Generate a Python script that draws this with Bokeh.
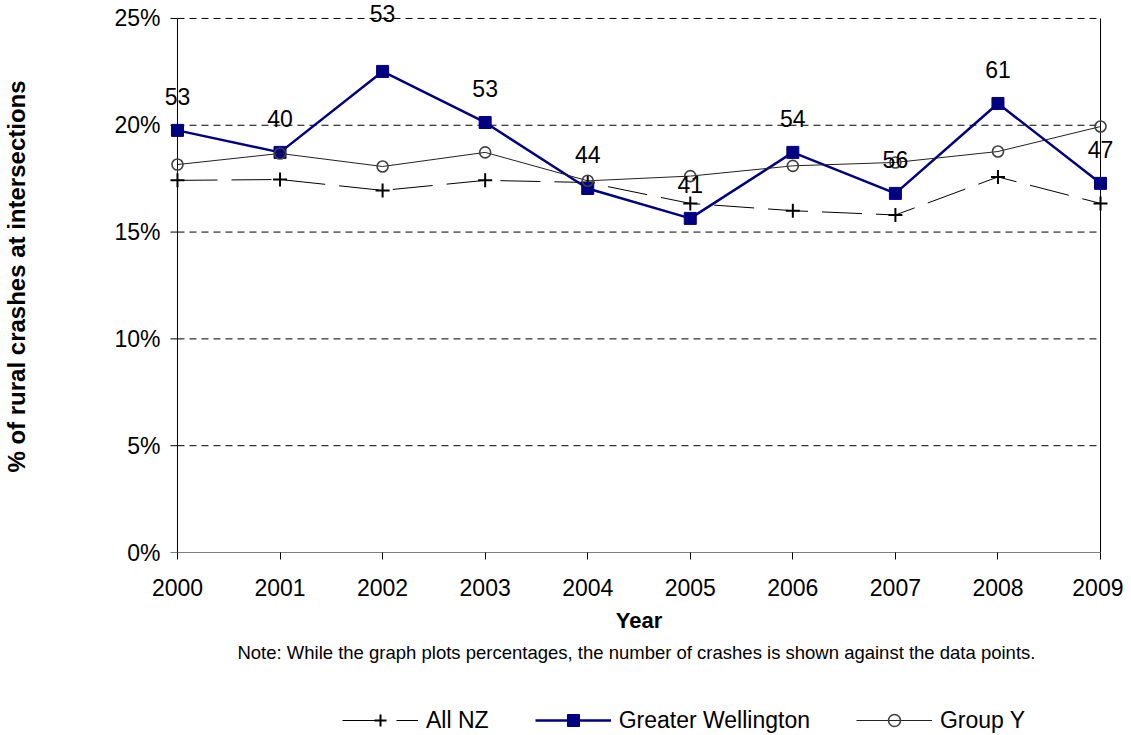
from bokeh.plotting import figure
from bokeh.layouts import column
from bokeh.models import (Range1d, FixedTicker, Legend, LegendItem, Title,
                          ColumnDataSource, LabelSet)
from bokeh.core.properties import value
from bokeh.embed import file_html
from bokeh.resources import INLINE
import numpy as np

# ---- data ----
years = [2000, 2001, 2002, 2003, 2004, 2005, 2006, 2007, 2008, 2009]
all_nz = [17.42, 17.46, 16.95, 17.42, 17.32, 16.34, 16.0, 15.80, 17.58, 16.34]
greater_wellington = [19.76, 18.73, 22.52, 20.13, 17.04, 15.64, 18.73, 16.81, 21.02, 17.28]
group_y = [18.16, 18.68, 18.07, 18.73, 17.40, 17.62, 18.10, 18.26, 18.77, 19.94]
crash_counts = ["53", "40", "53", "53", "44", "41", "54", "56", "61", "47"]
y_ticks = [0, 5, 10, 15, 20, 25]
y_tick_labels = ["0%", "5%", "10%", "15%", "20%", "25%"]
x_ticks = years
series_names = ["All NZ", "Greater Wellington", "Group Y"]

FONT = "Liberation Sans"
LEFT = 162

pad_x = 0.146      # room beyond the first/last year so edge labels are not clipped
tick_len = 0.068   # 7 px outward tick on the value axis

p = figure(frame_width=953, frame_height=552,
           x_range=Range1d(years[0] - pad_x, years[-1] + pad_x),
           y_range=Range1d(0, 25.84),
           output_backend="svg", toolbar_location=None,
           min_border_left=LEFT, min_border_right=8, min_border_top=0,
           min_border_bottom=125, outline_line_color=None)

p.background_fill_color = "white"
p.border_fill_color = "white"
p.xgrid.visible = False
p.ygrid.visible = False

# y axis (labels only; line and ticks drawn at the first year below)
p.yaxis.ticker = FixedTicker(ticks=y_ticks)
p.yaxis.major_label_overrides = {t: l for t, l in zip(y_ticks, y_tick_labels)}
p.yaxis.axis_line_color = None
p.yaxis.major_tick_line_color = None
p.yaxis.major_tick_in = 0
p.yaxis.major_tick_out = 0
p.yaxis.minor_tick_line_color = None
p.yaxis.major_label_text_font = FONT
p.yaxis.major_label_text_font_size = "23px"
p.yaxis.major_label_text_color = "black"
p.yaxis.major_label_standoff = 2
p.yaxis.axis_label = "% of rural crashes at intersections"
p.yaxis.axis_label_text_font = FONT
p.yaxis.axis_label_text_font_size = "24px"
p.yaxis.axis_label_text_font_style = "bold"
p.yaxis.axis_label_text_color = "black"
p.yaxis.axis_label_standoff = 81

# x axis
p.xaxis.ticker = FixedTicker(ticks=x_ticks)
p.xaxis.axis_line_color = None
p.xaxis.major_tick_out = 7
p.xaxis.major_tick_in = 0
p.xaxis.major_tick_line_color = "black"
p.xaxis.minor_tick_line_color = None
p.xaxis.major_label_text_font = FONT
p.xaxis.major_label_text_font_size = "23px"
p.xaxis.major_label_text_color = "black"
p.xaxis.major_label_standoff = 19
p.xaxis.axis_label = "Year"
p.xaxis.axis_label_text_font = FONT
p.xaxis.axis_label_text_font_size = "22px"
p.xaxis.axis_label_text_font_style = "bold"
p.xaxis.axis_label_text_color = "black"
p.xaxis.axis_label_standoff = 9

n_grid = len(y_ticks) - 1
# dashed gridlines across the plot area (first to last year)
p.segment(x0=[years[0]] * n_grid, x1=[years[-1]] * n_grid, y0=y_ticks[1:], y1=y_ticks[1:],
          line_color="black", line_width=1, line_dash="7 5")
# value-axis tick marks
p.segment(x0=[years[0] - tick_len] * len(y_ticks), x1=[years[0]] * len(y_ticks),
          y0=y_ticks, y1=y_ticks, line_color="black", line_width=1)
# solid axis line at 0 and the two vertical frame lines
p.segment(x0=[years[0], years[0], years[-1]], x1=[years[-1], years[0], years[-1]],
          y0=[y_ticks[0], y_ticks[0], y_ticks[0]], y1=[y_ticks[0], y_ticks[-1], y_ticks[-1]],
          line_color="black", line_width=1)

gw_arr = np.array(greater_wellington)
lab_y = gw_arr + 1.6
lab_y = np.where(lab_y > 24.0, 25.25, lab_y)

src = ColumnDataSource(dict(x=years, nz=all_nz, gw=greater_wellington, gy=group_y,
                            lab=crash_counts, laby=lab_y))

NZ_STYLE = dict(line_color="black", line_width=1, line_dash="40 14")
NZ_MARK = dict(marker="cross", size=14, line_color="black", line_width=2)
GW_STYLE = dict(line_color="#000080", line_width=2.5)
GW_MARK = dict(marker="square", size=12, fill_color="#000080", line_color="#000080")
GY_STYLE = dict(line_color="#222222", line_width=1)
GY_MARK = dict(marker="circle", size=11, fill_color=None, line_color="#404040", line_width=1.6)

# All NZ
p.line("x", "nz", source=src, **NZ_STYLE)
p.scatter("x", "nz", source=src, **NZ_MARK)
# Greater Wellington
p.line("x", "gw", source=src, **GW_STYLE)
p.scatter("x", "gw", source=src, **GW_MARK)
# Group Y
p.line("x", "gy", source=src, **GY_STYLE)
p.scatter("x", "gy", source=src, **GY_MARK)

# crash count labels
labels = LabelSet(x="x", y="laby", text="lab", source=src, text_align="center",
                  text_baseline="middle", text_font=value(FONT),
                  text_font_size=value("23px"), text_color="black")
p.add_layout(labels)

# note
note = Title(text="Note: While the graph plots percentages, the number of crashes is shown against the  data points.",
             align="center", text_font=FONT, text_font_size="18.5px",
             text_font_style="normal", text_color="black", standoff=8, offset=-7)
p.add_layout(note, "below")

# ---- legend strip (separate small figure under the chart) ----
lg = figure(frame_width=961, frame_height=58, x_range=Range1d(0, 1), y_range=Range1d(0, 1),
            output_backend="svg", toolbar_location=None, x_axis_type=None, y_axis_type=None,
            min_border_left=LEFT, min_border_right=8, min_border_top=0, min_border_bottom=0,
            outline_line_color=None)
lg.grid.visible = False
lg.background_fill_color = "white"
lg.border_fill_color = "white"
# legend-only renderers: their single point lies outside the strip's ranges
off = ColumnDataSource(dict(x=[10], y=[10]))
r_nz = [lg.line("x", "y", source=off, **NZ_STYLE), lg.scatter("x", "y", source=off, **NZ_MARK)]
r_gw = [lg.line("x", "y", source=off, **GW_STYLE), lg.scatter("x", "y", source=off, **GW_MARK)]
r_gy = [lg.line("x", "y", source=off, **GY_STYLE), lg.scatter("x", "y", source=off, **GY_MARK)]

legend = Legend(items=[LegendItem(label=n, renderers=r) for n, r in zip(series_names, [r_nz, r_gw, r_gy])],
                orientation="horizontal", location=(180, 0),
                label_text_font=FONT, label_text_font_size="23px", label_text_color="black",
                glyph_width=76, glyph_height=30, label_height=30, spacing=46, label_standoff=8,
                border_line_color=None, background_fill_alpha=0, margin=0, padding=0)
lg.add_layout(legend)

layout = column(p, lg, spacing=0)

open("out.html", "w").write(file_html(layout, INLINE))
